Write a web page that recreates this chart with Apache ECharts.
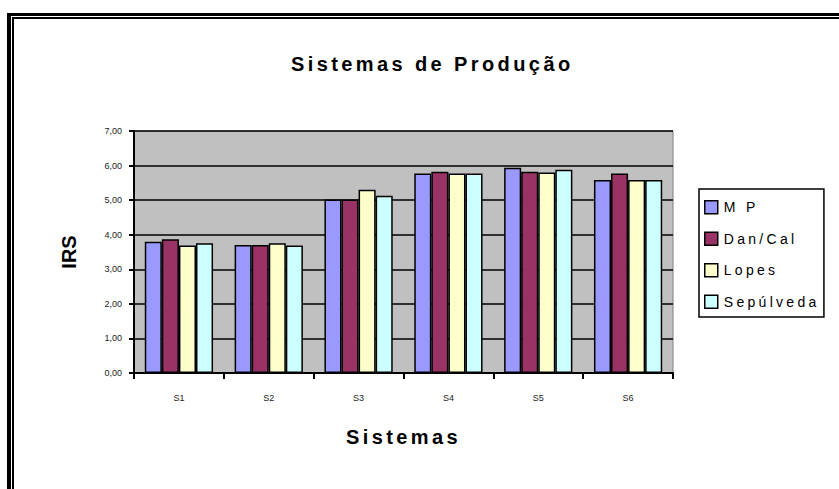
<!DOCTYPE html>
<html>
<head>
<meta charset="utf-8">
<script src="https://cdn.jsdelivr.net/npm/echarts@6/dist/echarts.min.js"></script>
<style>
html,body{margin:0;padding:0;background:#fff;}
#chart{width:839px;height:489px;}
#chart text[style*="Helvetica"], #chart text[font-family*="Helvetica"] { letter-spacing: 3.4px; }
#chart text[style*="Nimbus"], #chart text[font-family*="Nimbus"] { letter-spacing: 3.3px; }
</style>
</head>
<body>
<div id="chart"></div>
<script>
const categories = ['S1', 'S2', 'S3', 'S4', 'S5', 'S6'];
const seriesNames = ['M P', 'Dan/Cal', 'Lopes', 'Sepúlveda'];
const mpValues = [3.80, 3.70, 5.02, 5.77, 5.94, 5.58];
const danCalValues = [3.87, 3.70, 5.02, 5.82, 5.82, 5.77];
const lopesValues = [3.69, 3.75, 5.30, 5.77, 5.80, 5.58];
const sepulvedaValues = [3.75, 3.69, 5.13, 5.77, 5.88, 5.58];
const yTicks = [0, 1, 2, 3, 4, 5, 6, 7];
const colors = ['#9999FF', '#993366', '#FFFFCC', '#CCFFFF'];

const chart = echarts.init(document.getElementById('chart'), null, {renderer: 'svg'});
const FONT = '"Liberation Sans", Arial, sans-serif';
const FONT_SPACED = '"Liberation Sans", Helvetica, sans-serif';
const FONT_LEGEND = '"Liberation Sans", "Nimbus Sans", sans-serif';
const allValues = [mpValues, danCalValues, lopesValues, sepulvedaValues];

chart.setOption({
  animation: false,
  backgroundColor: '#ffffff',
  title: {
    text: 'Sistemas de Produção',
    left: 286, top: 49,
    textStyle: {fontFamily: FONT_SPACED, fontSize: 20, fontWeight: 'bold', color: '#000'}
  },
  graphic: [
    {type: 'rect', shape: {x: 7, y: 13, width: 900, height: 3}, style: {fill: '#000'}},
    {type: 'rect', shape: {x: 7, y: 13, width: 4, height: 600}, style: {fill: '#000'}},
    {type: 'rect', shape: {x: 12, y: 17, width: 900, height: 2}, style: {fill: '#000'}},
    {type: 'rect', shape: {x: 12, y: 17, width: 2, height: 600}, style: {fill: '#000'}}
  ],
  legend: {
    orient: 'vertical',
    left: 699, top: 189,
    padding: [11, 34, 8, 5],
    itemWidth: 13, itemHeight: 13, itemGap: 17,
    borderColor: '#000', borderWidth: 1.5,
    icon: 'rect',
    itemStyle: {borderColor: '#000', borderWidth: 1.5},
    textStyle: {fontFamily: FONT_LEGEND, fontSize: 14, color: '#000', padding: [0, 0, 0, 1]},
    data: seriesNames
  },
  grid: {
    left: 134, right: 166, top: 131, bottom: 116,
    show: true, backgroundColor: '#C0C0C0', borderColor: '#808080', borderWidth: 1
  },
  xAxis: {
    type: 'category',
    data: categories,
    name: 'Sistemas', nameLocation: 'middle', nameGap: 54,
    nameTextStyle: {fontFamily: FONT_SPACED, fontSize: 20, fontWeight: 'bold', color: '#000'},
    axisLine: {lineStyle: {color: '#000', width: 2}},
    axisTick: {show: true, length: 6, lineStyle: {color: '#000', width: 2}},
    axisLabel: {fontFamily: FONT, fontSize: 9, color: '#222', margin: 20}
  },
  yAxis: {
    type: 'value', min: yTicks[0], max: yTicks[yTicks.length - 1], interval: 1,
    name: 'IRS', nameLocation: 'middle', nameGap: 55, nameRotate: 90,
    nameTextStyle: {fontFamily: FONT, fontSize: 20, fontWeight: 'bold', color: '#000'},
    axisLine: {show: true, lineStyle: {color: '#000', width: 2}},
    axisTick: {show: true, length: 5, lineStyle: {color: '#000', width: 2}},
    axisLabel: {fontFamily: FONT, fontSize: 9, color: '#222', margin: 12,
      formatter: v => v.toFixed(2).replace('.', ',')},
    splitLine: {show: true, lineStyle: {color: '#000', width: 1.5}}
  },
  series: seriesNames.map((n, i) => ({
    name: n, type: 'bar', data: allValues[i],
    barGap: '0%', barCategoryGap: '24%',
    itemStyle: {color: colors[i], borderColor: '#000', borderWidth: 1.5}
  }))
});
</script>
</body>
</html>
